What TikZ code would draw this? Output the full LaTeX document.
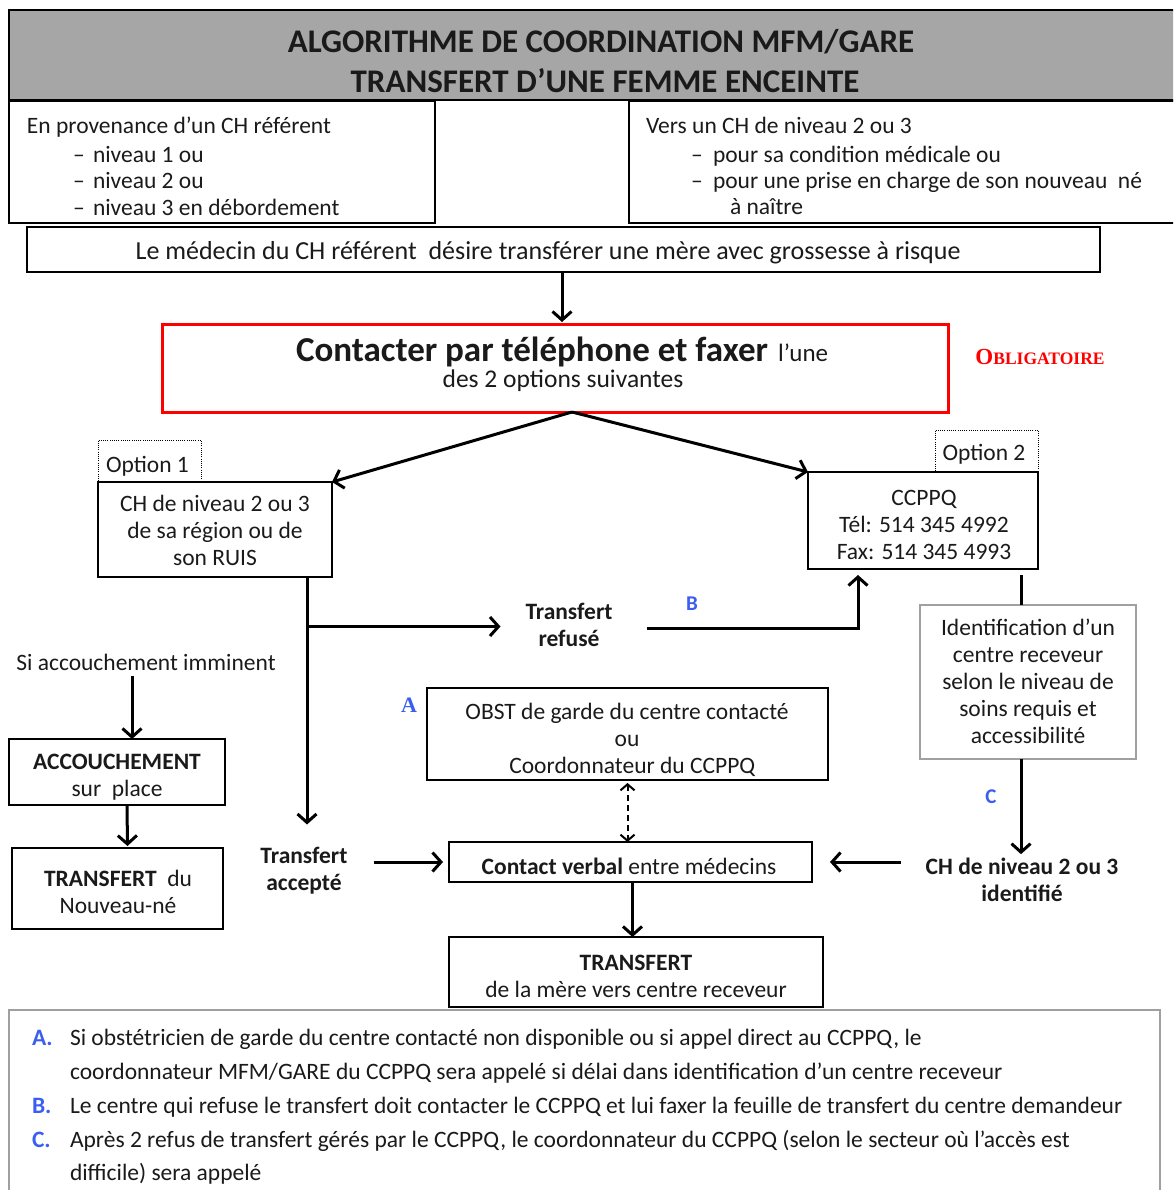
\documentclass[tikz,border=0pt]{standalone}
\usepackage{fontspec}
\setmainfont{Carlito}
\newfontfamily\serifb{Liberation Serif}
\usetikzlibrary{arrows.meta}
\newcommand\fsz[2]{\fontsize{#1}{#2}\selectfont}
\definecolor{hdrgray}{HTML}{A6A6A6}
\definecolor{lblue}{HTML}{3A5FF0}
\definecolor{boxgray}{HTML}{A0A0A0}
\definecolor{txtc}{HTML}{1A1A1A}
\begin{document}
\begin{tikzpicture}[x=1pt,y=-1pt,
  every node/.style={inner sep=0pt, outer sep=0pt, text=txtc},
  bx/.style={draw, line width=1.3pt},
  gbx/.style={draw=boxgray, line width=1.6pt},
  dotbx/.style={draw, line width=0.9pt, dash pattern=on 1pt off 1.2pt},
  txt/.style={align=center, font=\fsz{23.5}{27}},
  ln/.style={anchor=west, font=\fsz{23.5}{27}, text height=20pt, text depth=3pt},
  btxt/.style={align=center, font=\bfseries\fsz{23.5}{27}},
  arr/.style={line width=3pt, -{Straight Barb[length=8.5pt,width=19pt]}},
  plain/.style={line width=3pt},
  darr/.style={line width=2pt, dash pattern=on 6pt off 4pt, {Straight Barb[length=6pt,width=14pt]}-{Straight Barb[length=6pt,width=14pt]}},
  lab/.style={font=\bfseries\fsz{21}{21}, text=lblue},
  note/.style={anchor=west, font=\fsz{23.5}{34}, text height=20pt, text depth=3pt},
  notel/.style={anchor=west, font=\fsz{23.5}{34}, text=lblue, text height=20pt, text depth=3pt},
]
\useasboundingbox (0,0) rectangle (1173,1190);
\clip (0,0) rectangle (1173,1190);

% header
\node[draw, line width=2.5pt, fill=hdrgray, minimum width=1180pt, minimum height=90pt, anchor=north west] (hdr) at (9,10) {};
\node[font=\bfseries\fsz{33}{33}] (t1) at (601,42) {ALGORITHME DE COORDINATION MFM/GARE};
\node[font=\bfseries\fsz{33}{33}] (t2) at (605,81) {TRANSFERT D’UNE FEMME ENCEINTE};

% source / destination
\node[bx, minimum width=426pt, minimum height=122pt, anchor=north west] (src) at (9,101) {};
\node[ln] (s0) at (27,125) {En provenance d’un CH référent};
\node[ln] (s1d) at (73,154) {–};
\node[ln] (s1) at (93,154) {niveau 1 ou};
\node[ln] (s2d) at (73,180) {–};
\node[ln] (s2) at (93,180) {niveau 2 ou};
\node[ln] (s3d) at (73,207) {–};
\node[ln] (s3) at (93,207) {niveau 3 en débordement};

\node[bx, minimum width=560pt, minimum height=122pt, anchor=north west] (dst) at (629,101) {};
\node[ln] (d0) at (646,125) {Vers un CH de niveau 2 ou 3};
\node[ln] (d1d) at (691,154) {–};
\node[ln] (d1) at (713,154) {pour sa condition médicale ou};
\node[ln] (d2d) at (691,180) {–};
\node[ln] (d2) at (713,180) {pour une prise en charge de son nouveau\ \ né};
\node[ln] (d3) at (730,206) {à naître};

% medecin
\node[bx, minimum width=1073pt, minimum height=45pt] (med) at (563.5,249.5) {};
\node[font=\fsz{26}{27}, text height=20pt, text depth=4pt] (medt) at (548,251) {Le médecin du CH référent\ \ désire transférer une mère avec grossesse à risque};

% red box
\node[draw=red, line width=3pt, minimum width=786pt, minimum height=88pt] (red) at (555,368) {};
\node[anchor=base west] (r1) at (296,361) {{\bfseries\fsz{35}{35}Contacter par téléphone et faxer}\hspace{10pt}{\fsz{25}{25}l’une}};
\node[font=\fsz{25.5}{27}] (r2) at (563,381) {des 2 options suivantes};
\node[text=red, font=\serifb\bfseries] (obl) at (1040,357) {{\fsz{23}{23}O}{\fsz{17.5}{17.5}BLIGATOIRE}};
\coordinate (medo) at ([xshift=-1.5pt]med.south);
\draw[arr, shorten >=2pt] (medo) -- (medo |- red.north);

% options
\node[dotbx, minimum width=103pt, minimum height=42pt, anchor=north west] (o1) at (98,440) {};
\node[txt] (o1t) at (147.5,466) {Option 1};
\node[bx, minimum width=234pt, minimum height=95pt] (b1) at (215,529.5) {};
\node[txt] (b1t) at (215,530) {CH de niveau 2 ou 3\\de sa région ou de\\son RUIS};
\node[dotbx, minimum width=103pt, minimum height=42pt, anchor=north west] (o2) at (935,430) {};
\node[txt] (o2t) at (984,454) {Option 2};
\node[bx, minimum width=230pt, minimum height=97pt] (cc) at (923,520.5) {};
\node[txt] (cct) at (924,525) {CCPPQ\\Tél: 514 345 4992\\Fax: 514 345 4993};

\coordinate (split) at ([xshift=17pt]red.south);
\draw[arr] (split) -- (b1.north east);
\draw[arr] (split) -- (cc.north west);

% right column
\node[gbx, minimum width=216pt, minimum height=154pt] (idb) at (1028,682) {};
\node[txt] (idbt) at (1028,681) {Identification d’un\\centre receveur\\selon le niveau de\\soins requis et\\accessibilité};
\node[btxt] (chid) at (1022,880) {CH de niveau 2 ou 3\\identifié};
\coordinate (ccx) at ([xshift=-17pt,yshift=-6pt]cc.south east);
\draw[plain] (ccx) -- (ccx |- idb.north);
\draw[arr] (ccx |- idb.south) -- ([yshift=4pt]ccx |- chid.north);
\node[lab] (lc) at (991,797) {C};

% refused
\node[btxt] (ref) at (569,625) {Transfert\\refusé};
\coordinate (b1o) at ([xshift=-25pt]b1.south east);
\node[btxt] (acc2) at (304,871) {Transfert\\accepté};
\draw[plain] (b1o) -- ([yshift=-3pt]b1o |- ref.west);
\draw[arr] ([yshift=-1.5pt]b1o |- ref.west) -- ([xshift=-25pt,yshift=-1.5pt]ref.west);
\draw[arr] ([yshift=-3pt]b1o |- ref.west) -- ([yshift=23pt]b1o |- acc2.north);
\coordinate (refo) at ([xshift=34pt,yshift=-3pt]ref.east);
\draw[arr, line join=miter] (refo) -| ([xshift=-65pt,yshift=-6pt]cc.south);
\node[lab] (lb) at (692,604) {B};

% left column
\node[txt] (imm) at (146,662) {Si accouchement imminent};
\node[bx, minimum width=216pt, minimum height=66pt] (acc) at (117,772) {};
\node[txt] (acct) at (117,777) {\textbf{ACCOUCHEMENT}\\sur\ \ place};
\node[bx, minimum width=211pt, minimum height=81pt] (tnn) at (117.5,888.5) {};
\node[txt] (tnnt) at (118,892) {\textbf{TRANSFERT}\ \ du\\Nouveau-né};
\coordinate (immo) at ([xshift=-14pt,yshift=-6pt]imm.south);
\draw[arr] (immo) -- (immo |- acc.north);
\draw[arr] ([xshift=10pt]acc.south) -- ([xshift=10pt,yshift=2pt]tnn.north);

% centre column
\node[bx, minimum width=401pt, minimum height=92pt] (obst) at (627.5,734) {};
\node[txt] (obstt) at (627,740) {OBST de garde du centre contacté\\ou\\\ \ Coordonnateur du CCPPQ};
\node[font=\serifb\bfseries\fsz{22}{22}, text=lblue] (la) at (409,705) {A};
\node[bx, minimum width=363pt, minimum height=40pt] (cv) at (630.5,862) {};
\node[txt] (cvt) at (629,866) {\textbf{Contact verbal} entre médecins};
\node[bx, minimum width=374pt, minimum height=70pt] (tm) at (636,972) {};
\node[txt] (tmt) at (636,976) {\textbf{TRANSFERT}\\de la mère vers centre receveur};
\draw[darr] ([yshift=-3pt]obst.south) -- (obst.south |- cv.north);
\draw[arr] ([xshift=2pt]cv.south) -- ([xshift=2pt]cv.south |- tm.north);
\coordinate (acce) at ([xshift=26pt]acc2.east);
\draw[arr] (acce |- cv.west) -- ([xshift=-6pt]cv.west);
\coordinate (chw) at ([xshift=-25pt]chid.west);
\draw[arr] (chw |- cv.east) -- ([xshift=18pt]cv.east);

% notes
\node[draw=boxgray, line width=2pt, minimum width=1151pt, minimum height=200pt, anchor=north west] (notes) at (9,1010) {};
\node[notel] (na) at (32,1037) {\textbf{A.}};
\node[note] (n1) at (70,1037) {Si obstétricien de garde du centre contacté non disponible ou si appel direct au CCPPQ, le};
\node[note] (n2) at (70,1071) {coordonnateur MFM/GARE du CCPPQ sera appelé si délai dans identification d’un centre receveur};
\node[notel] (nb) at (32,1105) {\textbf{B.}};
\node[note] (n3) at (70,1105) {Le centre qui refuse le transfert doit contacter le CCPPQ et lui faxer la feuille de transfert du centre demandeur};
\node[notel] (nc) at (32,1139) {\textbf{C.}};
\node[note] (n4) at (70,1139) {Après 2 refus de transfert gérés par le CCPPQ, le coordonnateur du CCPPQ (selon le secteur où l’accès est};
\node[note] (n5) at (70,1172) {difficile) sera appelé};
\end{tikzpicture}
\end{document}
